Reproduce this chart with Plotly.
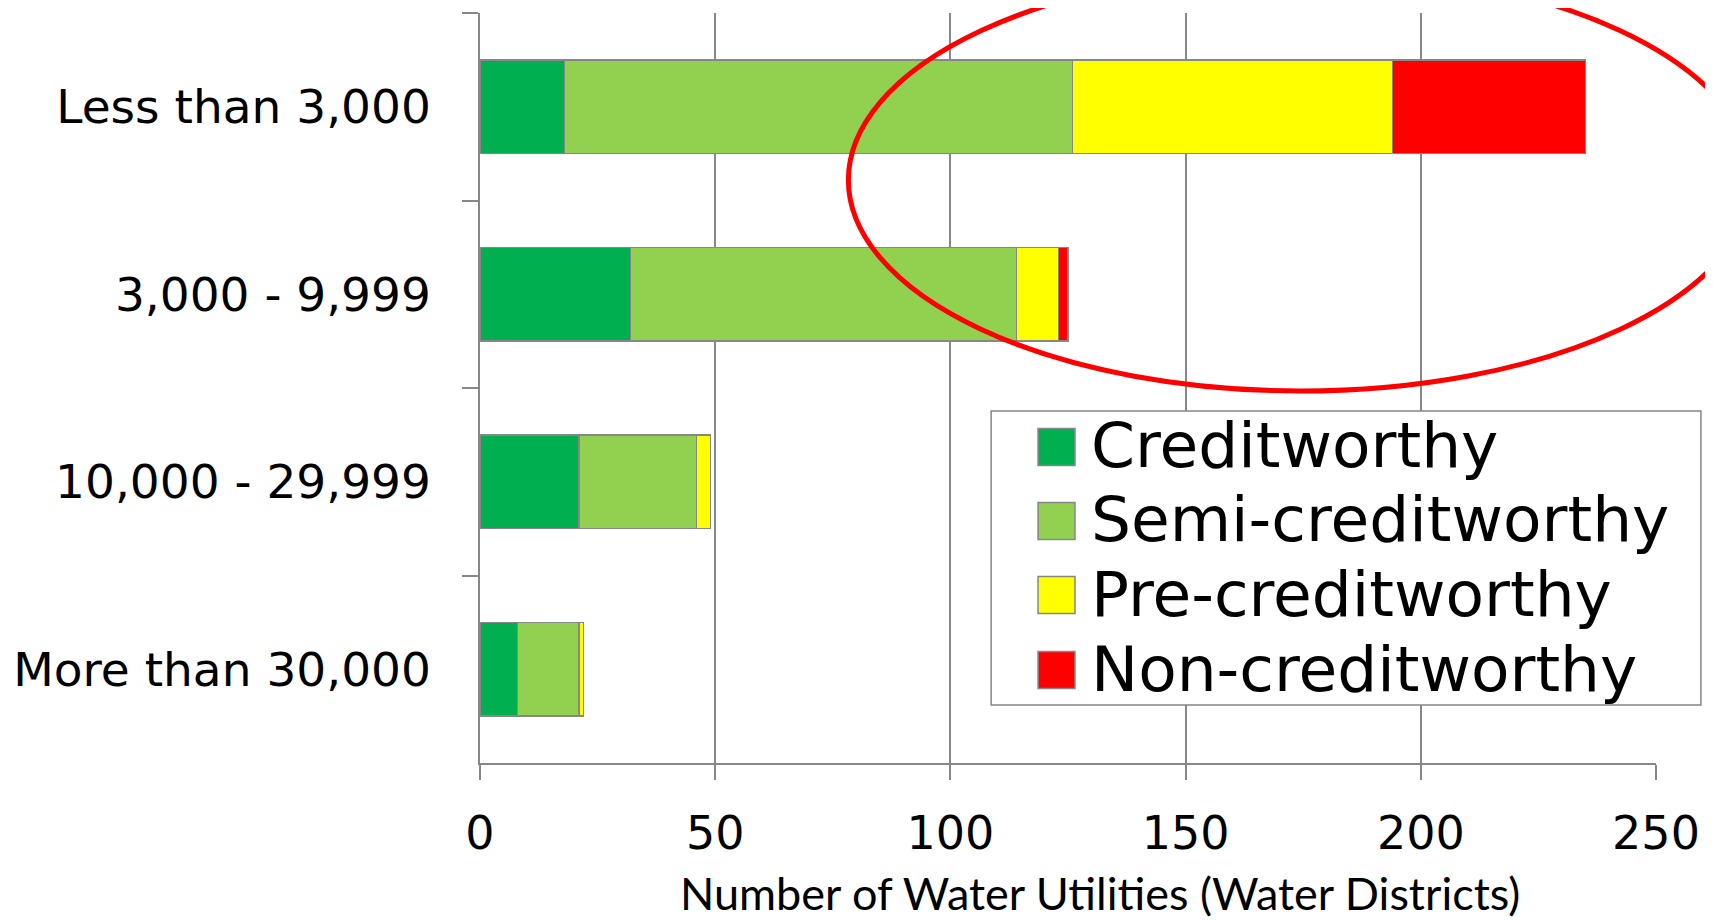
import plotly.graph_objects as go

# ---- data ----
categories = ["Less than 3,000", "3,000 - 9,999", "10,000 - 29,999", "More than 30,000"]
creditworthy = [18, 32, 21, 8]
semi_creditworthy = [108, 82, 25, 13]
pre_creditworthy = [68, 9, 3, 1]
non_creditworthy = [41, 2, 0, 0]
series_names = ["Creditworthy", "Semi-creditworthy", "Pre-creditworthy", "Non-creditworthy"]
x_ticks = [0, 50, 100, 150, 200, 250]
x_title = "Number of Water Utilities (Water Districts)"

colors = ["#00B050", "#92D050", "#FFFF00", "#FF0000"]
OUTLINE = "#878787"
OFF = 8  # page body margin
W, H = 1713 - OFF, 920 - OFF
L, R, T, B = 478 - OFF, 57, 13 - OFF, 157
PW, PH = W - L - R, H - T - B

def px(x):  # page pixel -> paper x
    return (x - OFF - L) / PW

def py(y):  # page pixel -> paper y
    return (H - B - (y - OFF)) / PH

fig = go.Figure()
for name, vals, c in zip(series_names,
                         [creditworthy, semi_creditworthy, pre_creditworthy, non_creditworthy],
                         colors):
    fig.add_trace(go.Bar(
        y=categories, x=vals, name=name, orientation="h",
        marker=dict(color=c, line=dict(color=OUTLINE, width=1.5)),
        showlegend=False,
    ))

shapes = []
# red ellipse highlighting small utilities
shapes.append(dict(type="circle", xref="paper", yref="paper",
                   x0=px(847), x1=px(1753), y0=py(391), y1=py(-31),
                   line=dict(color="#FF0000", width=5), layer="above"))

# legend box
shapes.append(dict(type="rect", xref="paper", yref="paper",
                   x0=px(990), x1=px(1701), y0=py(705), y1=py(411),
                   line=dict(color="#878787", width=1.5), fillcolor="white", layer="above"))

annotations = []
row_centers = [447, 521, 595, 670]
for name, c, yc in zip(series_names, colors, row_centers):
    shapes.append(dict(type="rect", xref="paper", yref="paper",
                       x0=px(1037), x1=px(1074), y0=py(yc + 18.5), y1=py(yc - 18.5),
                       line=dict(color=OUTLINE, width=1.5), fillcolor=c, layer="above"))
    annotations.append(dict(xref="paper", yref="paper", x=px(1088), y=py(yc - 1),
                            text=name, showarrow=False, xanchor="left", yanchor="middle",
                            font=dict(family="DejaVu Sans", size=63, color="black")))

# x-axis title
annotations.append(dict(xref="paper", yref="paper", x=px(1099), y=py(893),
                        text=x_title, showarrow=False, xanchor="center", yanchor="middle",
                        borderpad=0,
                        font=dict(family="Lato", size=45, color="black")))

fig.update_layout(
    width=W, height=H,
    margin=dict(l=L, r=R, t=T, b=B, pad=0),
    paper_bgcolor="white", plot_bgcolor="white",
    barmode="stack", bargap=0.5,
    shapes=shapes, annotations=annotations,
    showlegend=False,
    font=dict(family="DejaVu Sans", color="black"),
)
fig.update_xaxes(
    range=[0, 250], tickvals=x_ticks, ticktext=[str(v) for v in x_ticks],
    showgrid=True, gridcolor="#878787", gridwidth=1.5,
    showline=True, linecolor="#878787", linewidth=1.5,
    ticks="outside", ticklen=15, tickcolor="#878787", tickwidth=1.5,
    tickfont=dict(family="DejaVu Sans", size=46, color="black"),
    ticklabelstandoff=14,
    zeroline=False,
)
fig.update_yaxes(
    categoryorder="array", categoryarray=categories, autorange="reversed",
    showgrid=False, showline=True, linecolor="#878787", linewidth=1.5,
    ticks="outside", ticklen=16, tickcolor="#878787", tickwidth=1.5,
    tickson="boundaries",
    tickfont=dict(family="DejaVu Sans", size=47, color="black"),
    ticklabelstandoff=38,
)

fig.write_html("out.html")
